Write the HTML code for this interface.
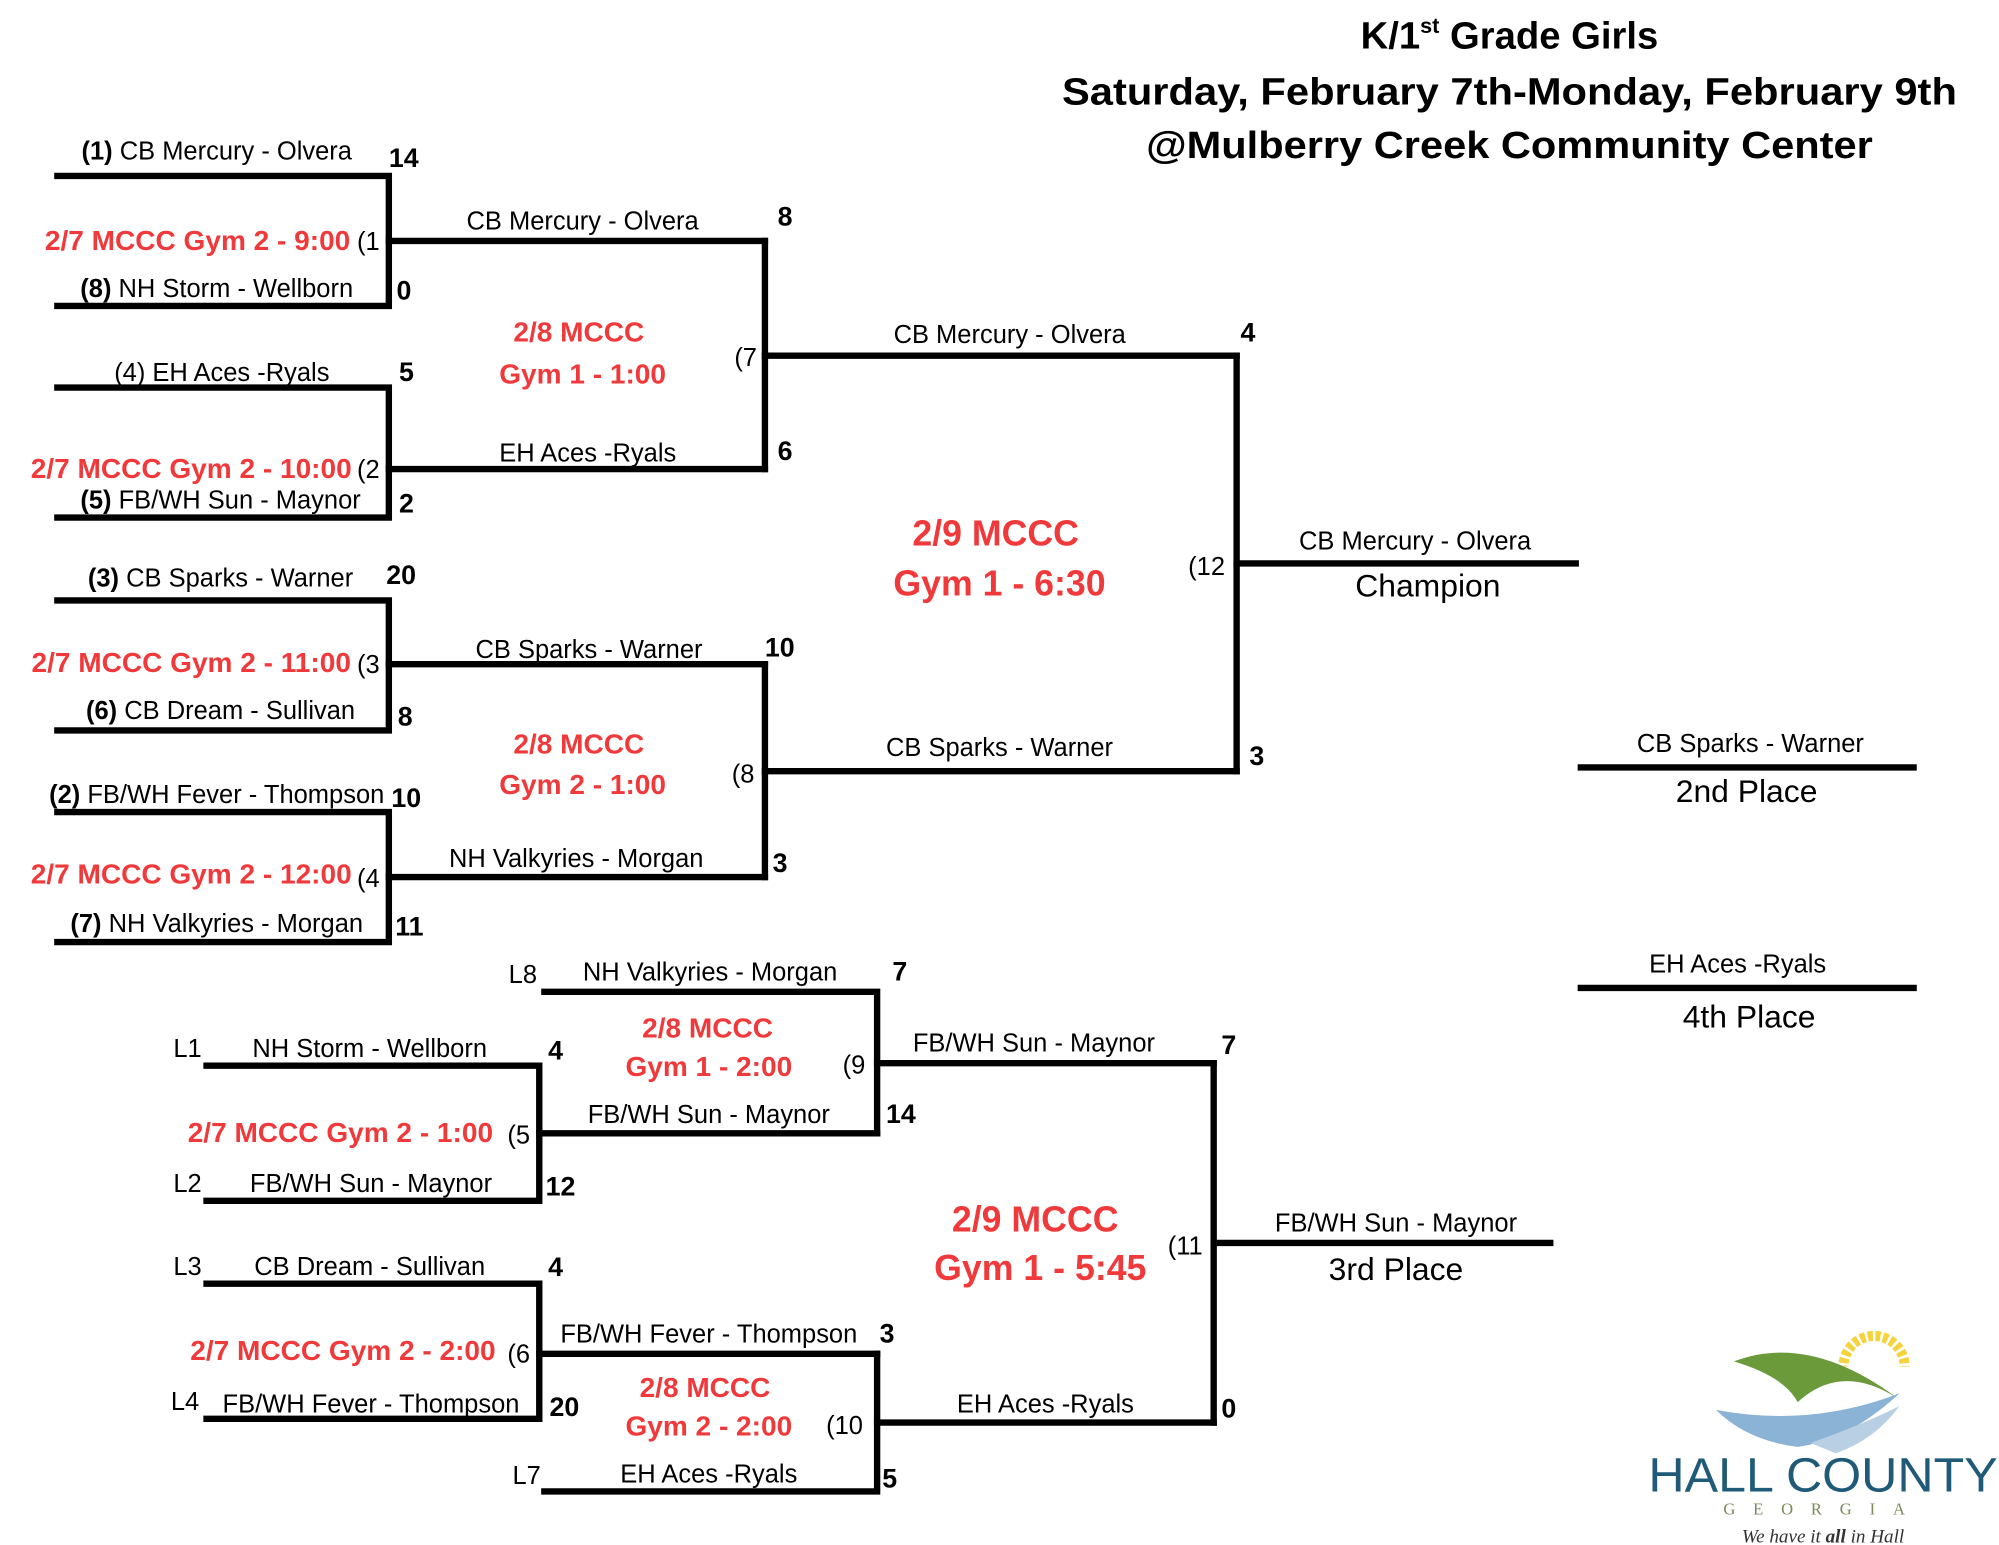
<!DOCTYPE html>
<html><head><meta charset="utf-8"><style>
html,body{margin:0;padding:0;background:#fff;}
svg{display:block;}
text{font-family:"Liberation Sans Narrow","Liberation Sans",sans-serif;}
.t{font-size:20px;fill:#000;}
.b{font-weight:bold;}
.s{font-size:21px;font-weight:bold;fill:#000;}
.r{font-size:22px;font-weight:bold;fill:#f0393b;}
.rb{font-size:28px;font-weight:bold;fill:#f0393b;}
.p{font-size:20px;fill:#000;}
.h{font-size:30px;font-weight:bold;fill:#000;}
.pl{font-size:25px;fill:#000;}
</style></head><body>
<svg width="1999" height="1545" viewBox="0 0 1568 1212" preserveAspectRatio="none" xmlns="http://www.w3.org/2000/svg">
<g stroke="#000" stroke-width="5" fill="none" stroke-linecap="square">
<!-- winners R1 -->
<polyline points="45,138 305,138 305,240 45,240"/>
<line x1="305" y1="189" x2="600" y2="189"/>
<polyline points="45,304 305,304 305,406 45,406"/>
<line x1="305" y1="368" x2="600" y2="368"/>
<polyline points="45,471 305,471 305,573 45,573"/>
<line x1="305" y1="521" x2="600" y2="521"/>
<polyline points="45,637 305,637 305,739 45,739"/>
<line x1="305" y1="688" x2="600" y2="688"/>
<line x1="600" y1="189" x2="600" y2="368"/>
<line x1="600" y1="279" x2="970" y2="279"/>
<line x1="600" y1="521" x2="600" y2="688"/>
<line x1="600" y1="605" x2="970" y2="605"/>
<line x1="970" y1="279" x2="970" y2="605"/>
<line x1="970" y1="442" x2="1236" y2="442"/>
<line x1="1240" y1="602" x2="1501" y2="602"/>
<line x1="1240" y1="775" x2="1501" y2="775"/>
<!-- losers -->
<polyline points="427,778 688,778 688,889"/>
<polyline points="162,836 423,836 423,942 162,942"/>
<line x1="423" y1="889" x2="688" y2="889"/>
<line x1="688" y1="834" x2="952" y2="834"/>
<polyline points="162,1007 423,1007 423,1113 162,1113"/>
<line x1="423" y1="1062" x2="688" y2="1062"/>
<polyline points="427,1170 688,1170 688,1062"/>
<line x1="688" y1="1116" x2="952" y2="1116"/>
<line x1="952" y1="834" x2="952" y2="1116"/>
<line x1="952" y1="975" x2="1216" y2="975"/>
</g>
<!-- title -->
<text class="h" x="1184" y="38" text-anchor="middle">K/1<tspan font-size="17" dy="-12">st</tspan><tspan dy="12"> Grade Girls</tspan></text>
<text class="h" x="1184" y="82" text-anchor="middle" textLength="702" lengthAdjust="spacingAndGlyphs">Saturday, February 7th-Monday, February 9th</text>
<text class="h" x="1184" y="124" text-anchor="middle" textLength="570" lengthAdjust="spacingAndGlyphs">@Mulberry Creek Community Center</text>

<!-- R1 -->
<text class="t" x="170" y="125" text-anchor="middle"><tspan class="b">(1)</tspan> CB Mercury - Olvera</text>
<text class="s" x="305" y="131">14</text>
<text class="r" x="155" y="196" text-anchor="middle">2/7 MCCC Gym 2 - 9:00</text>
<text class="p" x="280" y="196">(1</text>
<text class="t" x="170" y="233" text-anchor="middle"><tspan class="b">(8)</tspan> NH Storm - Wellborn</text>
<text class="s" x="311" y="235">0</text>

<text class="t" x="174" y="299" text-anchor="middle">(4) EH Aces -Ryals</text>
<text class="s" x="313" y="299">5</text>
<text class="r" x="150" y="375" text-anchor="middle">2/7 MCCC Gym 2 - 10:00</text>
<text class="p" x="280" y="375">(2</text>
<text class="t" x="173" y="399" text-anchor="middle"><tspan class="b">(5)</tspan> FB/WH Sun - Maynor</text>
<text class="s" x="313" y="402">2</text>

<text class="t" x="173" y="460" text-anchor="middle"><tspan class="b">(3)</tspan> CB Sparks - Warner</text>
<text class="s" x="303" y="458">20</text>
<text class="r" x="150" y="527" text-anchor="middle">2/7 MCCC Gym 2 - 11:00</text>
<text class="p" x="280" y="528">(3</text>
<text class="t" x="173" y="564" text-anchor="middle"><tspan class="b">(6)</tspan> CB Dream - Sullivan</text>
<text class="s" x="312" y="569">8</text>

<text class="t" x="170" y="630" text-anchor="middle"><tspan class="b">(2)</tspan> FB/WH Fever - Thompson</text>
<text class="s" x="307" y="633">10</text>
<text class="r" x="150" y="693" text-anchor="middle">2/7 MCCC Gym 2 - 12:00</text>
<text class="p" x="280" y="696">(4</text>
<text class="t" x="170" y="731" text-anchor="middle"><tspan class="b">(7)</tspan> NH Valkyries - Morgan</text>
<text class="s" x="310" y="734">11</text>

<!-- R2 -->
<text class="t" x="457" y="180" text-anchor="middle">CB Mercury - Olvera</text>
<text class="s" x="610" y="177">8</text>
<text class="r" x="454" y="268" text-anchor="middle">2/8 MCCC</text>
<text class="r" x="457" y="301" text-anchor="middle">Gym 1 - 1:00</text>
<text class="p" x="576" y="287">(7</text>
<text class="t" x="461" y="362" text-anchor="middle">EH Aces -Ryals</text>
<text class="s" x="610" y="361">6</text>

<text class="t" x="462" y="516" text-anchor="middle">CB Sparks - Warner</text>
<text class="s" x="600" y="515">10</text>
<text class="r" x="454" y="591" text-anchor="middle">2/8 MCCC</text>
<text class="r" x="457" y="623" text-anchor="middle">Gym 2 - 1:00</text>
<text class="p" x="574" y="614">(8</text>
<text class="t" x="452" y="680" text-anchor="middle">NH Valkyries - Morgan</text>
<text class="s" x="606" y="684">3</text>

<!-- R3 -->
<text class="t" x="792" y="269" text-anchor="middle">CB Mercury - Olvera</text>
<text class="s" x="973" y="268">4</text>
<text class="rb" x="781" y="428" text-anchor="middle">2/9 MCCC</text>
<text class="rb" x="784" y="467" text-anchor="middle">Gym 1 - 6:30</text>
<text class="p" x="932" y="451">(12</text>
<text class="t" x="784" y="593" text-anchor="middle">CB Sparks - Warner</text>
<text class="s" x="980" y="600">3</text>

<text class="t" x="1110" y="431" text-anchor="middle">CB Mercury - Olvera</text>
<text class="pl" x="1120" y="468" text-anchor="middle">Champion</text>
<text class="t" x="1373" y="590" text-anchor="middle">CB Sparks - Warner</text>
<text class="pl" x="1370" y="629" text-anchor="middle">2nd Place</text>
<text class="t" x="1363" y="763" text-anchor="middle">EH Aces -Ryals</text>
<text class="pl" x="1372" y="806" text-anchor="middle">4th Place</text>

<!-- losers -->
<text class="p" x="399" y="771">L8</text>
<text class="t" x="557" y="769" text-anchor="middle">NH Valkyries - Morgan</text>
<text class="s" x="700" y="769">7</text>
<text class="p" x="136" y="829">L1</text>
<text class="t" x="290" y="829" text-anchor="middle">NH Storm - Wellborn</text>
<text class="s" x="430" y="831">4</text>
<text class="r" x="555" y="814" text-anchor="middle">2/8 MCCC</text>
<text class="r" x="556" y="844" text-anchor="middle">Gym 1 - 2:00</text>
<text class="p" x="661" y="842">(9</text>
<text class="t" x="811" y="825" text-anchor="middle">FB/WH Sun - Maynor</text>
<text class="s" x="958" y="827">7</text>
<text class="r" x="267" y="896" text-anchor="middle">2/7 MCCC Gym 2 - 1:00</text>
<text class="p" x="398" y="897">(5</text>
<text class="t" x="556" y="881" text-anchor="middle">FB/WH Sun - Maynor</text>
<text class="s" x="695" y="881">14</text>
<text class="p" x="136" y="935">L2</text>
<text class="t" x="291" y="935" text-anchor="middle">FB/WH Sun - Maynor</text>
<text class="s" x="428" y="938">12</text>

<text class="rb" x="812" y="966" text-anchor="middle">2/9 MCCC</text>
<text class="rb" x="816" y="1004" text-anchor="middle">Gym 1 - 5:45</text>
<text class="p" x="916" y="984">(11</text>
<text class="t" x="1095" y="966" text-anchor="middle">FB/WH Sun - Maynor</text>
<text class="pl" x="1095" y="1004" text-anchor="middle">3rd Place</text>

<text class="p" x="136" y="1000">L3</text>
<text class="t" x="290" y="1000" text-anchor="middle">CB Dream - Sullivan</text>
<text class="s" x="430" y="1001">4</text>
<text class="t" x="556" y="1053" text-anchor="middle">FB/WH Fever - Thompson</text>
<text class="s" x="690" y="1053">3</text>
<text class="r" x="269" y="1067" text-anchor="middle">2/7 MCCC Gym 2 - 2:00</text>
<text class="p" x="398" y="1069">(6</text>
<text class="r" x="553" y="1096" text-anchor="middle">2/8 MCCC</text>
<text class="r" x="556" y="1126" text-anchor="middle">Gym 2 - 2:00</text>
<text class="p" x="648" y="1125">(10</text>
<text class="t" x="820" y="1108" text-anchor="middle">EH Aces -Ryals</text>
<text class="s" x="958" y="1112">0</text>
<text class="p" x="134" y="1106">L4</text>
<text class="t" x="291" y="1108" text-anchor="middle">FB/WH Fever - Thompson</text>
<text class="s" x="431" y="1111">20</text>
<text class="p" x="402" y="1164">L7</text>
<text class="t" x="556" y="1163" text-anchor="middle">EH Aces -Ryals</text>
<text class="s" x="692" y="1167">5</text>

<!-- logo -->
<g>
<circle cx="1470" cy="1072" r="24" fill="none" stroke="#f5d33f" stroke-width="8" stroke-dasharray="4 2"/>
<rect x="1430" y="1072" width="70" height="40" fill="#fff"/>
<path d="M1360,1068 Q1420,1045 1490,1098 Q1445,1068 1410,1100 Q1400,1080 1360,1068Z" fill="#6b9a3a"/>
<path d="M1346,1106 Q1420,1120 1490,1093 Q1450,1130 1410,1135 Q1370,1130 1346,1106Z" fill="#8ab3d5"/>
<path d="M1420,1132 Q1460,1118 1490,1103 Q1470,1130 1440,1140Z" fill="#b9d0e4"/>
<text x="1430" y="1170" text-anchor="middle" font-size="38" fill="#1f5a78" style="font-family:'Liberation Sans',sans-serif" textLength="274" lengthAdjust="spacingAndGlyphs">HALL COUNTY</text>
<text x="1430" y="1188" text-anchor="middle" font-size="13" fill="#7a8a5a" style="font-family:'Liberation Serif',serif" letter-spacing="14">GEORGIA</text>
<text x="1430" y="1210" text-anchor="middle" font-size="15" font-style="italic" fill="#333" style="font-family:'Liberation Serif',serif">We have it <tspan font-weight="bold">all</tspan> in Hall</text>
</g>
</svg>
</body></html>
